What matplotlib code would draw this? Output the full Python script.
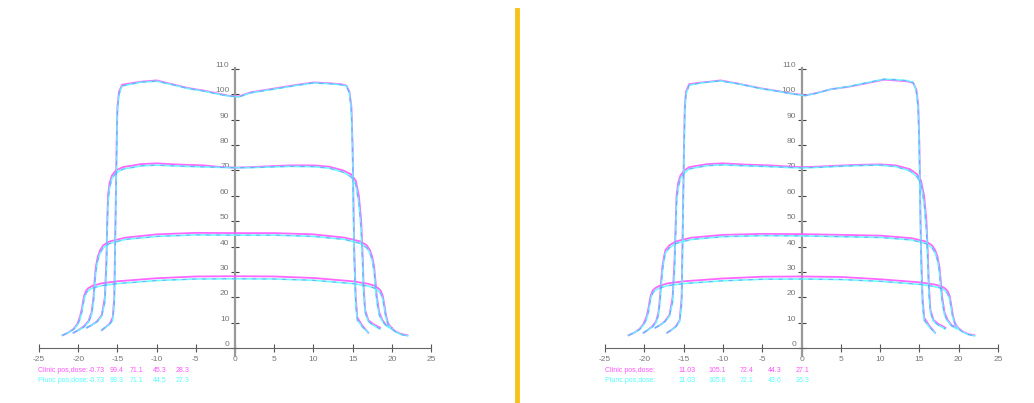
import matplotlib
matplotlib.use('Agg')
import matplotlib.pyplot as plt
from matplotlib import font_manager
from matplotlib.lines import Line2D

#---------------------------  DATA -----------------------------
# left panel, Clinic (magenta) and Plunc (cyan) profiles
L100_x = [-17.0, -16.6, -16.0, -15.6, -15.4, -15.3, -15.2, -15.1, -15.0, -14.8, -14.4, -13.0, -12.0, -10.0, -8.0, -6.0, -4.0, -2.0, -0.7, 0.5, 2.0, 4.0, 6.0, 8.0, 10.0, 12.0, 13.5, 14.2, 14.6, 14.85, 15.0, 15.1, 15.2, 15.4, 15.6, 16.2, 17.0]
L100_clinic = [7, 8, 9.5, 12, 20, 40, 60, 80, 95, 101, 103.8, 104.5, 105, 105.5, 104, 102.5, 101.5, 100.2, 99.4, 99.2, 100.8, 101.8, 102.8, 103.8, 104.7, 104.4, 104, 103.5, 101, 95, 80, 60, 40, 20, 12, 9, 6]
L100_plunc = [7, 8, 9.3, 11, 17, 35, 55, 76, 93, 100, 103.3, 104.2, 104.8, 105.2, 103.8, 102.3, 101.3, 100.0, 99.3, 99.0, 100.6, 101.6, 102.6, 103.6, 104.5, 104.2, 103.8, 103.3, 100.5, 93, 76, 55, 35, 17, 11, 8.5, 6]

L70_x = [-18.9, -18.3, -17.6, -17.0, -16.6, -16.4, -16.3, -16.2, -16.0, -15.7, -15.2, -14.3, -12.0, -10.0, -7.0, -4.0, -2.0, 0.0, 2.0, 4.0, 7.0, 10.0, 12.0, 13.8, 14.8, 15.4, 15.8, 16.1, 16.3, 16.4, 16.6, 17.0, 17.6, 18.5]
L70_clinic = [8, 9, 10.5, 13, 20, 35, 50, 60, 65, 68, 70, 71.3, 72.5, 72.8, 72.3, 72, 71.4, 71.1, 71.3, 71.6, 72, 72, 71.5, 70, 68.5, 66, 60, 50, 35, 25, 15, 11, 9.5, 8]
L70_plunc = [8, 9, 10.3, 12.5, 18, 31, 46, 57, 63, 66.8, 69, 70.5, 71.8, 72.1, 71.7, 71.4, 71.2, 71.1, 71.1, 71.3, 71.6, 71.5, 70.9, 69.3, 67.5, 64.5, 57, 46, 31, 22, 14, 10.5, 9, 7.5]

L45_x = [-20.6, -20.0, -19.3, -18.7, -18.3, -18.05, -17.9, -17.75, -17.5, -17.2, -16.8, -16.0, -14.0, -10.0, -5.0, 0.0, 5.0, 10.0, 14.0, 16.0, 16.8, 17.2, 17.5, 17.75, 17.9, 18.1, 18.4, 18.8, 19.3, 20.0]
L45_clinic = [6, 7, 8.5, 10.5, 14, 20, 27, 32, 36, 38.6, 40.5, 42, 43.5, 44.8, 45.4, 45.3, 45.3, 44.8, 43.5, 42, 40.5, 38.6, 36, 32, 27, 20, 14, 11, 9, 8]
L45_plunc = [6, 7, 8.2, 10, 13, 18, 24, 30, 34.5, 37.5, 39.5, 41.2, 42.8, 44.0, 44.6, 44.5, 44.5, 44.0, 42.8, 41.2, 39.5, 37.5, 34.5, 30, 24, 18, 13, 10.5, 8.7, 7.5]

L28_x = [-22.0, -21.3, -20.6, -20.1, -19.75, -19.5, -19.35, -19.2, -18.95, -18.7, -18.2, -17.0, -15.0, -10.0, -5.0, 0.0, 5.0, 10.0, 15.0, 17.0, 17.8, 18.3, 18.6, 18.85, 19.05, 19.25, 19.5, 19.9, 20.5, 21.2, 22.0]
L28_clinic = [5, 6, 7.5, 9.5, 12.5, 16, 19, 21, 22.8, 23.6, 24.5, 25.5, 26.3, 27.5, 28.2, 28.3, 28.2, 27.6, 26.3, 25.3, 24.5, 23.5, 22.5, 20.5, 17, 13, 10, 8, 6.5, 5.5, 5]
L28_plunc = [5, 6, 7.3, 9, 11.5, 14.5, 17.5, 19.8, 21.8, 22.7, 23.6, 24.6, 25.4, 26.6, 27.2, 27.3, 27.2, 26.7, 25.4, 24.4, 23.6, 22.6, 21.4, 19.2, 15.5, 12, 9.5, 7.7, 6.3, 5.3, 4.8]

# right panel
R100_x = [-17.1, -16.6, -16.0, -15.5, -15.25, -15.15, -15.05, -14.95, -14.85, -14.7, -14.3, -13.0, -12.0, -10.3, -8.0, -5.2, -3.0, -1.4, 0.5, 2.0, 3.7, 6.0, 8.0, 10.5, 12.0, 13.5, 14.2, 14.6, 14.85, 15.0, 15.1, 15.2, 15.4, 15.6, 16.2, 17.0]
R100_clinic = [6, 7, 8.5, 11, 20, 40, 60, 80, 95, 101, 104, 104.6, 104.9, 105.5, 104.2, 102.4, 101.3, 100.4, 99.6, 100.6, 102.0, 103.0, 104.2, 105.8, 105.5, 105.1, 104.5, 102, 96, 80, 60, 40, 20, 12, 9, 6]
R100_plunc = [6, 7, 8.3, 10.5, 17, 35, 55, 76, 93, 100, 103.6, 104.4, 104.8, 105.3, 104.1, 102.3, 101.2, 100.3, 99.5, 100.5, 102.0, 103.1, 104.4, 106.0, 105.8, 105.4, 104.7, 101.5, 94, 76, 55, 35, 17, 11, 8.5, 6]

R70_x = [-18.6, -18.0, -17.4, -16.8, -16.4, -16.15, -16.0, -15.9, -15.7, -15.4, -14.9, -14.3, -12.0, -10.0, -7.0, -4.0, -2.0, 0.0, 2.0, 4.0, 7.0, 10.0, 12.0, 13.8, 14.7, 15.2, 15.6, 15.9, 16.1, 16.2, 16.4, 16.8, 17.4, 18.3]
R70_clinic = [8, 9, 10.5, 13, 20, 35, 50, 60, 65, 68, 70, 71.3, 72.5, 72.8, 72.3, 72, 71.6, 71.3, 71.5, 71.8, 72.2, 72.4, 72.0, 70.5, 68.5, 66, 60, 50, 35, 25, 15, 11, 9.5, 8]
R70_plunc = [8, 9, 10.3, 12.5, 18, 31, 46, 57, 63, 66.8, 69, 70.6, 71.9, 72.2, 71.8, 71.5, 71.2, 71.0, 71.2, 71.5, 71.9, 72.1, 71.5, 69.8, 67.5, 64.5, 57, 46, 31, 22, 14, 10.5, 9, 7.5]

R45_x = [-20.1, -19.6, -19.0, -18.5, -18.2, -18.0, -17.85, -17.7, -17.5, -17.3, -16.8, -16.0, -14.0, -10.0, -5.0, 0.0, 5.0, 10.0, 14.0, 15.8, 16.6, 17.0, 17.3, 17.55, 17.7, 17.9, 18.2, 18.6, 19.1, 19.8]
R45_clinic = [6, 7, 8.5, 10.5, 14, 20, 27, 32, 36, 38.6, 40.5, 42, 43.5, 44.6, 45.0, 44.9, 44.6, 44.3, 43.3, 42, 40.5, 38.6, 36, 32, 27, 20, 14, 11, 9, 8]
R45_plunc = [6, 7, 8.2, 10, 13, 18, 24, 30, 34.5, 37.5, 39.5, 41.2, 42.8, 43.9, 44.3, 44.2, 43.9, 43.6, 42.6, 41.2, 39.5, 37.5, 34.5, 30, 24, 18, 13, 10.5, 8.7, 7.5]

R28_x = [-22.0, -21.3, -20.6, -20.1, -19.7, -19.45, -19.3, -19.15, -18.9, -18.6, -18.1, -17.0, -15.0, -10.0, -5.0, 0.0, 5.0, 10.0, 15.0, 17.0, 17.8, 18.3, 18.6, 18.85, 19.05, 19.25, 19.5, 19.9, 20.5, 21.2, 22.0]
R28_clinic = [5, 6, 7.5, 9.5, 12.5, 16, 19, 21, 22.8, 23.6, 24.5, 25.5, 26.3, 27.4, 28.1, 28.2, 28.0, 27.1, 25.9, 25.0, 24.3, 23.4, 22.4, 20.5, 17, 13, 10, 8, 6.5, 5.5, 5]
R28_plunc = [5, 6, 7.3, 9, 11.5, 14.5, 17.5, 19.8, 21.8, 22.7, 23.6, 24.6, 25.4, 26.5, 27.1, 27.2, 27.0, 26.3, 25.1, 24.2, 23.5, 22.5, 21.3, 19.2, 15.5, 12, 9.5, 7.7, 6.3, 5.3, 4.8]

# readout under each panel
L_pos = '-0.73'
L_clinic_dose = ['99.4', '71.1', '45.3', '28.3']
L_plunc_dose = ['99.3', '71.1', '44.5', '27.3']
R_pos = '11.03'
R_clinic_dose = ['105.1', '72.4', '44.3', '27.1']
R_plunc_dose = ['105.8', '72.1', '43.6', '26.3']

x_ticks = [-25, -20, -15, -10, -5, 0, 5, 10, 15, 20, 25]
y_ticks = [0, 10, 20, 30, 40, 50, 60, 70, 80, 90, 100, 110]

#---------------------------  STYLE -----------------------------
names = {f.name for f in font_manager.fontManager.ttflist}
FONT = 'Liberation Sans Narrow' if 'Liberation Sans Narrow' in names else 'Liberation Sans'
plt.rcParams['font.family'] = FONT

MAGENTA = '#ff55ff'
CYAN = '#55ffff'
GREY = '#777777'

W, H = 1034, 403
fig = plt.figure(figsize=(W / 100, H / 100), dpi=100)


def make_panel(left_px, right_px):
    # y: -3 -> 355.6 px, 113 -> 61.4 px
    ax = fig.add_axes([left_px / W, (H - 355.6) / H, (right_px - left_px) / W, (355.6 - 61.4) / H])
    ax.set_xlim(-25, 25)
    ax.set_ylim(-3, 113)
    for s in ['top', 'right']:
        ax.spines[s].set_visible(False)
    ax.spines['left'].set_position(('data', 0))
    ax.spines['bottom'].set_position(('data', 0))
    ax.spines['left'].set_bounds(-3, 110.5)
    ax.spines['bottom'].set_bounds(-25, 25)
    ax.spines['left'].set_color('#999999')
    ax.spines['left'].set_linewidth(1.6)
    ax.spines['bottom'].set_color('#666666')
    ax.spines['bottom'].set_linewidth(0.8)
    ax.set_xticks(x_ticks)
    ax.set_yticks(y_ticks)
    ax.set_xticklabels([str(t) for t in x_ticks])
    ax.set_yticklabels([str(t) for t in y_ticks], va='bottom')
    ax.tick_params(axis='x', direction='inout', length=6, width=0.8, color='#555555',
                   labelsize=6, labelcolor=GREY, pad=3)
    ax.tick_params(axis='y', direction='inout', length=6, width=0.8, color='#444444',
                   labelsize=6, labelcolor=GREY, pad=1)
    ax.patch.set_alpha(0)
    return ax


def draw(ax, x, clinic, plunc):
    ax.plot(x, clinic, color=MAGENTA, lw=1.3, alpha=0.9, zorder=3)
    ax.plot(x, plunc, color=CYAN, lw=1.2, alpha=0.85, zorder=4)
    ax.plot(x, plunc, color='#7a7aff', lw=0.8, alpha=0.6, dashes=(4, 5), zorder=5)


axL = make_panel(39, 431)
draw(axL, L100_x, L100_clinic, L100_plunc)
draw(axL, L70_x, L70_clinic, L70_plunc)
draw(axL, L45_x, L45_clinic, L45_plunc)
draw(axL, L28_x, L28_clinic, L28_plunc)

axR = make_panel(605, 998)
draw(axR, R100_x, R100_clinic, R100_plunc)
draw(axR, R70_x, R70_clinic, R70_plunc)
draw(axR, R45_x, R45_clinic, R45_plunc)
draw(axR, R28_x, R28_clinic, R28_plunc)


def readout(x0, cols, pos, clinic, plunc):
    fs = 5
    fig.text(x0 / W, 1 - 371 / H, 'Clinic pos,dose:', color=MAGENTA, fontsize=fs, va='center')
    fig.text(x0 / W, 1 - 381 / H, 'Plunc pos,dose:', color=CYAN, fontsize=fs, va='center')
    fig.text(cols[0] / W, 1 - 371 / H, pos, color=MAGENTA, fontsize=fs, va='center')
    fig.text(cols[0] / W, 1 - 381 / H, pos, color=CYAN, fontsize=fs, va='center')
    for c, a, b in zip(cols[1:], clinic, plunc):
        fig.text(c / W, 1 - 371 / H, a, color=MAGENTA, fontsize=fs, va='center')
        fig.text(c / W, 1 - 381 / H, b, color=CYAN, fontsize=fs, va='center')


readout(38, [89, 110, 130, 153, 176], L_pos, L_clinic_dose, L_plunc_dose)
readout(605, [678, 708, 740, 768, 796], R_pos, R_clinic_dose, R_plunc_dose)

# separator bar
fig.add_artist(Line2D([517 / W, 517 / W], [0, 1 - 10 / H], transform=fig.transFigure,
                      color='#f5c21b', lw=3.5))

plt.savefig('out.png', dpi=100)
